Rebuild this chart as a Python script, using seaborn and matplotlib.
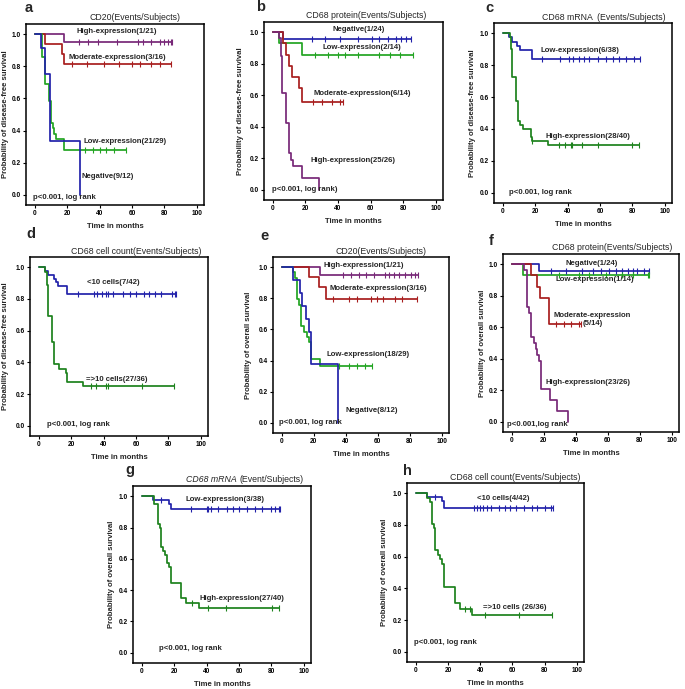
import numpy as np
import matplotlib
matplotlib.use("Agg")
import matplotlib.pyplot as plt
import seaborn as sns

sns.set_theme(style="ticks")
plt.rcParams['font.family'] = ['Liberation Sans', 'DejaVu Sans']

# ---------------- data ----------------
xticks = [0, 20, 40, 60, 80, 100]
yticks = [0.0, 0.2, 0.4, 0.6, 0.8, 1.0]
xticklabels = ["0", "20", "40", "60", "80", "100"]
yticklabels = ["0.0", "0.2", "0.4", "0.6", "0.8", "1.0"]

# panel a: DFS, CD20
a_high_t = [0, 18];               a_high_s = [1.0, 0.952]
a_high_c = [27, 33, 39, 51, 64, 67, 72, 77, 80, 82, 84, 85]
a_mod_t = [0, 6, 16.5, 18];       a_mod_s = [1.0, 0.938, 0.875, 0.813]
a_mod_c = [23, 32, 43, 52, 60, 65, 72, 77, 84]
a_low_t = [0, 4.5, 6, 8.5, 10, 11, 12, 13, 18]
a_low_s = [1.0, 0.862, 0.690, 0.586, 0.448, 0.414, 0.379, 0.345, 0.276]
a_low_c = [31, 36, 40, 44, 49, 56]
a_neg_t = [0, 4, 6.5, 9.5, 28];   a_neg_s = [1.0, 0.917, 0.75, 0.333, 0.0]
a_neg_c = []

# panel b: DFS, CD68 protein
b_neg_t = [0, 6];                 b_neg_s = [1.0, 0.958]
b_neg_c = [24, 32, 41, 52.5, 61, 65, 71, 75.5, 78.5, 81.5, 85]
b_low_t = [0, 3.5, 18];           b_low_s = [1.0, 0.929, 0.857]
b_low_c = [26, 34, 40, 44, 52, 65, 72, 78, 86]
b_mod_t = [0, 6, 8, 10, 12, 16, 18]
b_mod_s = [1.0, 0.929, 0.857, 0.786, 0.714, 0.643, 0.555]
b_mod_c = [24.5, 30, 36, 41, 43]
b_high_t = [0, 4, 4.8, 5.8, 7.9, 9.6, 11, 12.5, 17.7, 28.3]
b_high_s = [1.0, 0.962, 0.846, 0.615, 0.423, 0.231, 0.192, 0.154, 0.077, 0.0]
b_high_c = []

# panel c: DFS, CD68 mRNA
c_low_t = [0, 4, 5.5, 9, 10.5, 18]
c_low_s = [1.0, 0.974, 0.947, 0.921, 0.895, 0.842]
c_low_c = [24, 35, 41, 43.5, 47, 50, 53.5, 58.5, 64, 68, 72, 76, 81, 84.5]
c_high_t = [0, 4.3, 5.2, 5.8, 8, 9.5, 10.5, 12.5, 17.2, 17.8, 28]
c_high_s = [1.0, 0.975, 0.9, 0.725, 0.575, 0.45, 0.425, 0.4, 0.35, 0.325, 0.297]
c_high_c = [18, 34.5, 38.5, 42, 43, 49, 58.5, 80, 84]

# panel d: DFS, CD68 cell count
d_low_t = [0, 4, 5.5, 9.3, 10.3, 11.5, 17.6]
d_low_s = [1.0, 0.976, 0.952, 0.929, 0.905, 0.881, 0.833]
d_low_c = [24, 34, 36, 39, 41.5, 43, 46, 52, 56, 60, 65, 68, 71.5, 75.5, 82, 84, 85]
d_high_t = [0, 4, 5.2, 5.8, 8, 9.3, 12.4, 16.6, 17.6, 27]
d_high_s = [1.0, 0.972, 0.889, 0.694, 0.528, 0.389, 0.361, 0.333, 0.278, 0.25]
d_high_c = [32, 35.5, 41.5, 42.5, 64, 83.5]

# panel e: OS, CD20
e_high_t = [0, 24];               e_high_s = [1.0, 0.952]
e_high_c = [38, 43, 48, 52.5, 57.5, 64.5, 67, 70, 73, 77, 80.5, 83.5, 85]
e_mod_t = [0, 17, 23.5, 27.5];    e_mod_s = [1.0, 0.9375, 0.875, 0.797]
e_mod_c = [32, 42, 47, 56, 59.5, 63.5, 71, 75, 84.5]
e_low_t = [0, 7, 8.5, 9.5, 11, 12, 14, 16, 17, 18, 24]
e_low_s = [1.0, 0.966, 0.931, 0.793, 0.759, 0.621, 0.586, 0.552, 0.517, 0.41, 0.365]
e_low_c = [36, 42, 47, 52, 56.5]
e_neg_t = [0, 6.8, 11.4, 12.6, 15.1, 16.8, 18.2, 35.4]
e_neg_s = [1.0, 0.917, 0.833, 0.75, 0.667, 0.583, 0.375, 0.0]
e_neg_c = []

# panel f: OS, CD68 protein
f_neg_t = [0, 17];                f_neg_s = [1.0, 0.958]
f_neg_c = [24.5, 34, 44, 50.5, 55.5, 61, 65, 69, 72.5, 75.5, 78.5, 82.5, 85.5]
f_low_t = [0, 7];                 f_low_s = [1.0, 0.929]
f_low_c = [29.5, 42, 48, 59, 69, 75.5, 85, 86]
f_mod_t = [0, 12, 16, 17.7, 23.3]; f_mod_s = [1.0, 0.929, 0.857, 0.786, 0.619]
f_mod_c = [27.5, 32.7, 37, 42, 43]
f_high_t = [0, 7.7, 9.8, 10.8, 11.9, 14, 15, 16, 17.1, 18.1, 23.8, 28.5, 35.2]
f_high_s = [1.0, 0.962, 0.731, 0.692, 0.538, 0.5, 0.462, 0.423, 0.385, 0.208, 0.139, 0.069, 0.0]
f_high_c = []

# panel g: OS, CD68 mRNA
g_low_t = [0, 7, 17, 18];         g_low_s = [1.0, 0.974, 0.947, 0.92]
g_low_c = [12, 30.5, 40, 41, 43, 47, 52.5, 56.5, 60, 65, 70, 74.5, 79.5, 82.5, 84.5, 85.5]
g_high_t = [0, 7.7, 9.8, 11, 11.9, 13.3, 14.4, 15.6, 16.5, 17.7, 24, 27.5, 35.2]
g_high_s = [1.0, 0.95, 0.825, 0.8, 0.675, 0.65, 0.625, 0.575, 0.55, 0.443, 0.35, 0.32, 0.288]
g_high_c = [31, 41, 52, 80.5, 84.5]

# panel h: OS, CD68 cell count
h_low_t = [0, 6.8, 16.1, 17.2, 17.8]; h_low_s = [1.0, 0.976, 0.952, 0.929, 0.905]
h_low_c = [11.6, 36, 38, 40, 42, 44, 47, 51.5, 55.5, 58.5, 62.5, 67, 72, 75, 80.5, 84, 85.5]
h_high_t = [0, 6.8, 8.9, 9.9, 11, 12, 13.7, 15.1, 16.1, 17.2, 17.8, 24.4, 27.5, 34.8]
h_high_s = [1.0, 0.972, 0.944, 0.806, 0.778, 0.639, 0.611, 0.583, 0.556, 0.528, 0.407, 0.305, 0.271, 0.232]
h_high_c = [30.6, 33.7, 43, 64, 84.5]

DFS = "Probability of disease-free survival"
OS = "Probability of overall survival"

# ---------------- drawing ----------------
W, H = 685, 689
fig = plt.figure(figsize=(W / 100, H / 100), dpi=100)
fig.patch.set_facecolor("white")

BLUE = "#2222aa"
GREEN = "#22a422"
DGREEN = "#1d821d"
RED = "#a81e1e"
PURPLE = "#782878"

FS = 5.6
FW = "bold"


def fx(px):
    return px / W


def fy(py):
    return 1 - py / H


def add_ax(l, t, r, b):
    ax = fig.add_axes([l / W, 1 - b / H, (r - l) / W, (b - t) / H])
    ax.set_xlim(-5.5, 104.5)
    ax.set_ylim(-0.065, 1.065)
    ax.set_xticks(xticks)
    ax.set_yticks(yticks)
    ax.set_xticklabels(xticklabels, fontsize=4.7, fontweight="bold")
    ax.set_yticklabels(yticklabels, fontsize=4.7, fontweight="bold")
    ax.tick_params(length=2.5, width=0.8, pad=1.2, colors="black")
    for s in ax.spines.values():
        s.set_visible(True)
        s.set_linewidth(1.1)
        s.set_color("black")
    ax.set_facecolor("white")
    ax.grid(False)
    return ax


def km(ax, times, surv, cens, color):
    last = max([times[-1]] + list(cens))
    x = list(times) + [last]
    y = list(surv) + [surv[-1]]
    sns.lineplot(x=x, y=y, ax=ax, color=color, lw=1.25, drawstyle="steps-post",
                 estimator=None, sort=False)
    if len(cens):
        idx = np.searchsorted(times, cens, side="right") - 1
        cy = np.array(surv)[idx]
        sns.scatterplot(x=list(cens), y=list(cy), ax=ax, marker="|", s=13,
                        color=color, linewidth=0.8, zorder=3)


def decorate(ax, frame, letter, lpos, title, tcx, ylabel, ylx, labels):
    l, t, r, b = frame
    fig.text(fx(lpos[0]), fy(lpos[1]), letter, fontsize=10.5, fontweight="bold",
             ha="left", va="baseline")
    if title is not None:
        fig.text(fx(tcx), fy(t - 6), title, fontsize=6.3, ha="center", va="center")
    fig.text(fx(ylx), fy((t + b) / 2), ylabel, fontsize=FS, fontweight=FW,
             rotation=90, ha="center", va="center")
    fig.text(fx((l + r) / 2), fy(b + 21.5), "Time in months", fontsize=FS,
             fontweight=FW, ha="center", va="center")
    for txt, x, y in labels:
        ax.text(x, y, txt, fontsize=FS, fontweight=FW, ha="left", va="center")


# a
fa = (26, 24, 204, 205)
ax = add_ax(*fa)
km(ax, a_high_t, a_high_s, a_high_c, PURPLE)
km(ax, a_mod_t, a_mod_s, a_mod_c, RED)
km(ax, a_low_t, a_low_s, a_low_c, GREEN)
km(ax, a_neg_t, a_neg_s, a_neg_c, BLUE)
decorate(ax, fa, "a", (25, 12), "CD20(Events/Subjects)", 134.5, DFS, 6,
         [("High-expression(1/21)", 25.8, 1.02),
          ("Moderate-expression(3/16)", 20.6, 0.855),
          ("Low-expression(21/29)", 30, 0.333),
          ("Negative(9/12)", 29, 0.114),
          ("p<0.001, log rank", -1, -0.02)])

# b
fb = (264, 22, 443, 200)
ax = add_ax(*fb)
km(ax, b_neg_t, b_neg_s, b_neg_c, BLUE)
km(ax, b_low_t, b_low_s, b_low_c, GREEN)
km(ax, b_mod_t, b_mod_s, b_mod_c, RED)
km(ax, b_high_t, b_high_s, b_high_c, PURPLE)
decorate(ax, fb, "b", (256, 11), "CD68 protein(Events/Subjects)", 366, DFS, 241,
         [("Negative(1/24)", 36.4, 1.015),
          ("Low-expression(2/14)", 30.4, 0.90),
          ("Moderate-expression(6/14)", 25, 0.613),
          ("High-expression(25/26)", 23, 0.183),
          ("p<0.001, log rank)", -0.8, 0.0)])

# c
fc = (494, 23, 672, 203)
ax = add_ax(*fc)
km(ax, c_low_t, c_low_s, c_low_c, BLUE)
km(ax, c_high_t, c_high_s, c_high_c, DGREEN)
decorate(ax, fc, "c", (485, 12), "CD68 mRNA  (Events/Subjects)", 604, DFS, 473,
         [("Low-expression(6/38)", 23.4, 0.892),
          ("High-expression(28/40)", 26.5, 0.353),
          ("p<0.001, log rank", 3.7, 0.0)])

# d
fd = (30, 257, 208, 436)
ax = add_ax(*fd)
km(ax, d_low_t, d_low_s, d_low_c, BLUE)
km(ax, d_high_t, d_high_s, d_high_c, DGREEN)
decorate(ax, fd, "d", (26, 238), "CD68 cell count(Events/Subjects)", 136.7, DFS, 6,
         [("<10 cells(7/42)", 29.6, 0.907),
          ("=>10 cells(27/36)", 29, 0.289),
          ("p<0.001, log rank", 5.2, 0.01)])

# e
fe = (273, 257, 449, 433)
ax = add_ax(*fe)
km(ax, e_high_t, e_high_s, e_high_c, PURPLE)
km(ax, e_mod_t, e_mod_s, e_mod_c, RED)
km(ax, e_low_t, e_low_s, e_low_c, GREEN)
km(ax, e_neg_t, e_neg_s, e_neg_c, BLUE)
decorate(ax, fe, "e", (260, 240), "CD20(Events/Subjects)", 381, OS, 249,
         [("High-expression(1/21)", 25.9, 1.01),
          ("Moderate-expression(3/16)", 29.6, 0.865),
          ("Low-expression(18/29)", 28, 0.437),
          ("Negative(8/12)", 39.5, 0.079),
          ("p<0.001, log rank", -2, 0.0)])

# f
ff = (503, 254, 679, 432)
ax = add_ax(*ff)
km(ax, f_neg_t, f_neg_s, f_neg_c, BLUE)
km(ax, f_low_t, f_low_s, f_low_c, GREEN)
km(ax, f_mod_t, f_mod_s, f_mod_c, RED)
km(ax, f_high_t, f_high_s, f_high_c, PURPLE)
decorate(ax, ff, "f", (489, 245), "CD68 protein(Events/Subjects)", 612.6, OS, 482,
         [("Negative(1/24)", 33.3, 1.005),
          ("Low-expression(1/14)", 27.5, 0.9),
          ("Moderate-expression", 25.8, 0.675),
          ("(5/14)", 44.2, 0.625),
          ("High-expression(23/26)", 21.3, 0.248),
          ("p<0.001,log rank", -2.7, -0.02)])

# g
fg = (133, 486, 311, 663)
ax = add_ax(*fg)
km(ax, g_low_t, g_low_s, g_low_c, BLUE)
km(ax, g_high_t, g_high_s, g_high_c, DGREEN)
decorate(ax, fg, "g", (125, 474), None, 0, OS, 111,
         [("Low-expression(3/38)", 26.9, 0.98),
          ("High-expression(27/40)", 35.4, 0.346),
          ("p<0.001, log rank", 10.8, 0.03)])
fig.text(fx(237), fy(486 - 6), "CD68 mRNA", fontsize=6.3, style="italic",
         ha="right", va="center")
fig.text(fx(239.5), fy(486 - 6), "(Event/Subjects)", fontsize=6.3,
         ha="left", va="center")

# h
fh = (407, 483, 584, 662)
ax = add_ax(*fh)
km(ax, h_low_t, h_low_s, h_low_c, BLUE)
km(ax, h_high_t, h_high_s, h_high_c, DGREEN)
decorate(ax, fh, "h", (403, 475), "CD68 cell count(Events/Subjects)", 515, OS, 384,
         [("<10 cells(4/42)", 37.9, 0.965),
          ("=>10 cells (26/36)", 42, 0.278),
          ("p<0.001, log rank", -1.4, 0.06)])

fig.savefig("out.png", dpi=100, facecolor="white")
